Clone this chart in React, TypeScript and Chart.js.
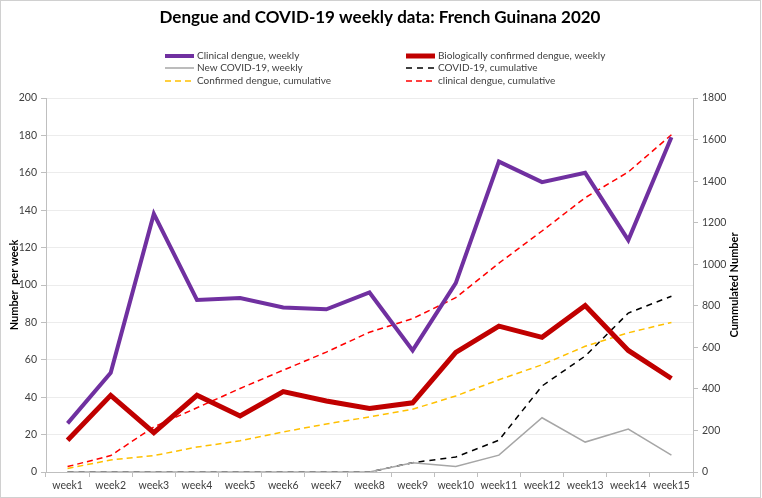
import React, { useEffect, useRef } from 'react';
import { Chart, registerables } from 'chart.js';

Chart.register(...registerables);

const weeks = ['week1', 'week2', 'week3', 'week4', 'week5', 'week6', 'week7', 'week8', 'week9', 'week10', 'week11', 'week12', 'week13', 'week14', 'week15'];
const clinicalWeekly = [26, 53, 138, 92, 93, 88, 87, 96, 65, 101, 166, 155, 160, 124, 179];
const confirmedWeekly = [17, 41, 21, 41, 30, 43, 38, 34, 37, 64, 78, 72, 89, 65, 50];
const covidWeekly = [0, 0, 0, 0, 0, 0, 0, 0, 5, 3, 9, 29, 16, 23, 9];
const covidCumulative = [0, 0, 0, 0, 0, 0, 0, 0, 5, 8, 17, 46, 62, 85, 94];
const confirmedCumulative = [17, 58, 79, 120, 150, 193, 231, 265, 302, 366, 444, 516, 605, 670, 720];
const clinicalCumulative = [26, 79, 217, 309, 402, 490, 577, 673, 738, 839, 1005, 1160, 1320, 1444, 1623];

const titleText = 'Dengue and COVID-19 weekly data: French Guinana 2020';
const leftTitle = 'Number  per week';
const rightTitle = 'Cummulated Number';

const FONT = 'Lato, "Open Sans", sans-serif';

const overlay = {
  id: 'overlay',
  beforeDraw(chart: any) {
    const ctx = chart.ctx;
    ctx.save();
    ctx.fillStyle = '#ffffff';
    ctx.fillRect(0, 0, chart.width, chart.height);
    ctx.restore();
  },
  afterDraw(chart: any) {
    const ctx = chart.ctx;
    const area = chart.chartArea;
    ctx.save();
    // border
    ctx.strokeStyle = '#d0d0d0';
    ctx.lineWidth = 1;
    ctx.strokeRect(0.5, 0.5, 760, 497);
    // title
    ctx.fillStyle = '#000000';
    ctx.font = `bold 17px ${FONT}`;
    ctx.textAlign = 'center';
    ctx.textBaseline = 'middle';
    ctx.fillText(titleText, 380, 18);
    // legend
    const ds = chart.data.datasets;
    const slots = [
      { i: 0, x: 165, y: 56 },
      { i: 1, x: 406, y: 56 },
      { i: 2, x: 165, y: 68 },
      { i: 3, x: 406, y: 68 },
      { i: 4, x: 165, y: 81 },
      { i: 5, x: 406, y: 81 },
    ];
    ctx.font = `10px ${FONT}`;
    ctx.textAlign = 'left';
    ctx.textBaseline = 'middle';
    slots.forEach((s) => {
      const d = ds[s.i];
      ctx.save();
      ctx.strokeStyle = d.borderColor;
      ctx.lineWidth = d.borderWidth;
      ctx.setLineDash(d.borderDash || []);
      ctx.lineCap = 'butt';
      ctx.beginPath();
      ctx.moveTo(s.x, s.y);
      ctx.lineTo(s.x + 29, s.y);
      ctx.stroke();
      ctx.restore();
      ctx.fillStyle = '#404040';
      ctx.fillText(d.label, s.x + 32, s.y);
    });
    // axis titles
    const cy = (area.top + area.bottom) / 2;
    ctx.font = `bold 11px ${FONT}`;
    ctx.fillStyle = '#000000';
    ctx.textAlign = 'center';
    ctx.save();
    ctx.translate(14, cy);
    ctx.rotate(-Math.PI / 2);
    ctx.fillText(leftTitle, 0, 0);
    ctx.restore();
    ctx.save();
    ctx.translate(734, cy);
    ctx.rotate(-Math.PI / 2);
    ctx.fillText(rightTitle, 0, 0);
    ctx.restore();
    ctx.restore();
  },
};

export default function App() {
  const ref = useRef<HTMLCanvasElement>(null);
  useEffect(() => {
    if (!ref.current) return;
    const tickFont = { family: FONT, size: 10.5 };
    const chart = new Chart(ref.current, {
      type: 'line',
      data: {
        labels: weeks,
        datasets: [
          { label: 'Clinical dengue, weekly', data: clinicalWeekly, borderColor: '#7030A0', borderWidth: 4, yAxisID: 'y' },
          { label: 'Biologically confirmed dengue, weekly', data: confirmedWeekly, borderColor: '#C00000', borderWidth: 5, yAxisID: 'y' },
          { label: 'New COVID-19, weekly', data: covidWeekly, borderColor: '#a6a6a6', borderWidth: 1.5, yAxisID: 'y' },
          { label: 'COVID-19, cumulative', data: covidCumulative, borderColor: '#000000', borderWidth: 1.5, borderDash: [6, 5], yAxisID: 'y' },
          { label: 'Confirmed dengue, cumulative', data: confirmedCumulative, borderColor: '#FFC000', borderWidth: 1.5, borderDash: [6, 4], yAxisID: 'y2' },
          { label: 'clinical dengue, cumulative', data: clinicalCumulative, borderColor: '#FF0000', borderWidth: 1.5, borderDash: [6, 4], yAxisID: 'y2' },
        ] as any,
      },
      options: {
        animation: false,
        responsive: false,
        layout: { padding: { top: 98, left: 0, right: 0, bottom: 0 } },
        elements: { point: { radius: 0 }, line: { tension: 0 } },
        plugins: { legend: { display: false }, title: { display: false }, tooltip: { enabled: false } },
        scales: {
          x: {
            offset: true,
            grid: { offset: true, drawOnChartArea: false, drawTicks: true, tickLength: 5, color: '#bfbfbf' },
            border: { color: '#bfbfbf' },
            ticks: { font: tickFont, color: '#404040', padding: 2, maxRotation: 0, autoSkip: false },
            afterFit: (s: any) => { s.height = 26; },
          },
          y: {
            position: 'left',
            min: 0,
            max: 200,
            ticks: { stepSize: 20, font: tickFont, color: '#404040', padding: 4 },
            grid: { color: '#ececec', tickColor: '#bfbfbf', tickLength: 5 },
            border: { color: '#bfbfbf' },
            afterFit: (s: any) => { s.width = 46; },
          },
          y2: {
            position: 'right',
            min: 0,
            max: 1800,
            ticks: { stepSize: 200, font: tickFont, color: '#404040', padding: 4, callback: (v: any) => String(v) },
            grid: { drawOnChartArea: false, color: '#bfbfbf', tickLength: 5 },
            border: { color: '#bfbfbf' },
            afterFit: (s: any) => { s.width = 69; },
          },
        },
      } as any,
      plugins: [overlay],
    });
    return () => chart.destroy();
  }, []);
  return (
    <div style={{ position: 'absolute', left: 0, top: 0, width: 762, height: 498 }}>
      <canvas ref={ref} width={762} height={498} style={{ display: 'block' }} />
    </div>
  );
}
